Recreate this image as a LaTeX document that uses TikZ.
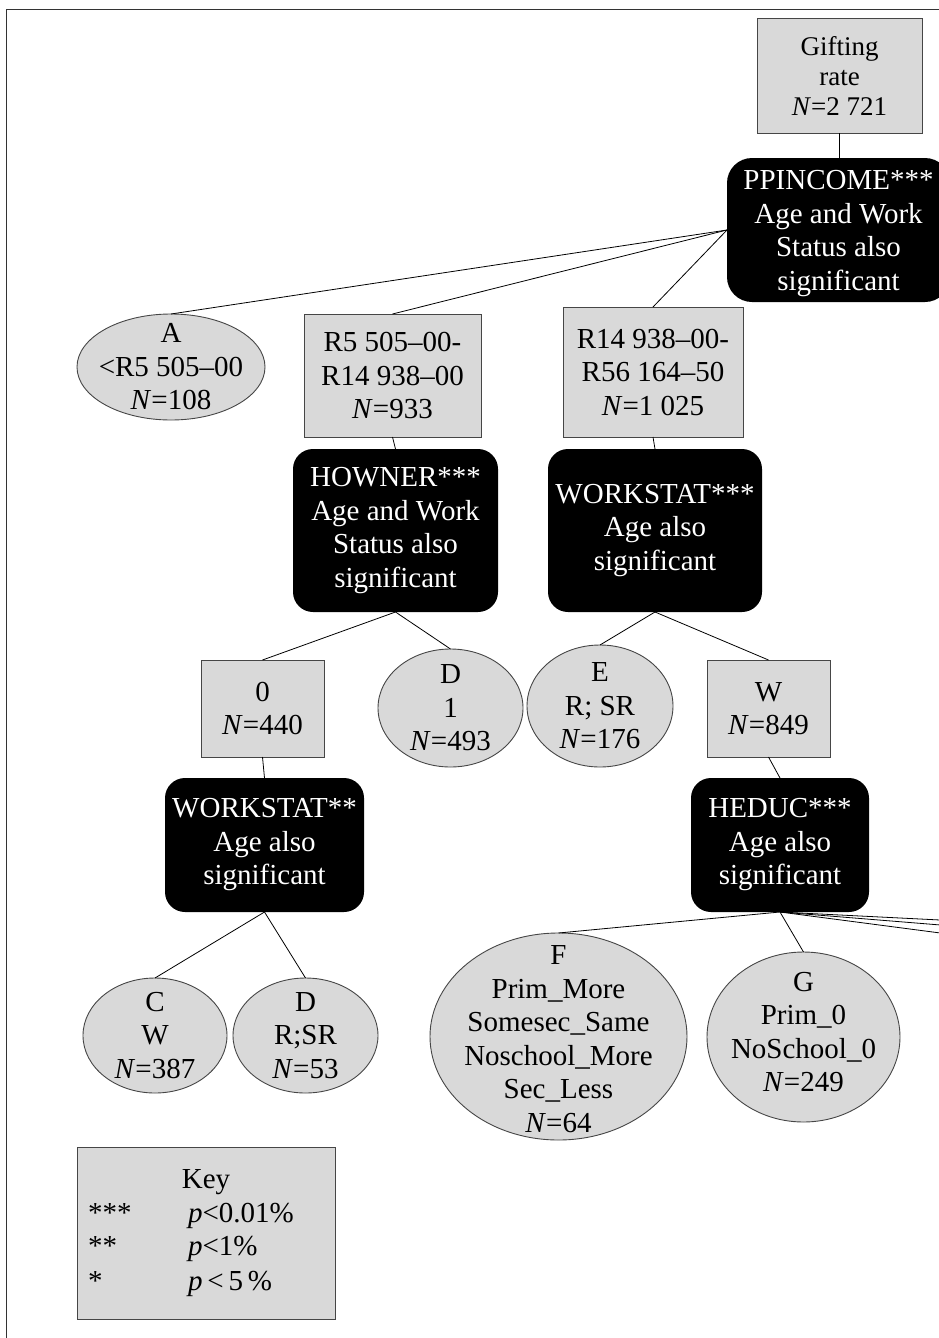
\documentclass[tikz,border=0pt]{standalone}
\usepackage{fontspec}
\setmainfont{Liberation Serif}
\usetikzlibrary{shapes.geometric}
\definecolor{boxgray}{RGB}{217,217,217}
\definecolor{rimgray}{RGB}{70,70,70}
\begin{document}
\begin{tikzpicture}[x=1pt,y=-1pt,
  every node/.style={inner sep=0pt, outer sep=0pt, align=center,
    font=\fontsize{29}{33.5}\selectfont},
  valbox/.style={rectangle, draw=rimgray, fill=boxgray, line width=0.9pt},
  leaf/.style={ellipse, draw=rimgray, fill=boxgray, line width=0.9pt},
  split/.style={rectangle, fill=black, text=white, rounded corners=20pt},
  whitetext/.style={text=white},
  link/.style={draw=black, line width=0.8pt},
  keyrow/.style={anchor=base west},
]
\useasboundingbox (0,0) rectangle (939,1338);
\clip (0,0) rectangle (939,1338);

% page frame
\draw[line width=1.3pt, draw=black!80] (6.5,1338) -- (6.5,9.5) -- (939,9.5);

% root and first split
\node[valbox, minimum width=165pt, minimum height=115pt,
      font=\fontsize{27}{30}\selectfont] (root) at (839.5,75.5)
  {Gifting\\rate\\\textit{N}=2 721};
\node[split, rounded corners=25pt, minimum width=223pt, minimum height=144pt]
  (ppinc) at (838.5,230) {};
\node[whitetext] (ppinctxt) at (838.5,233.5)
  {PPINCOME***\\Age and Work\\Status also\\significant};

% income groups
\node[leaf, minimum width=188pt, minimum height=106pt] (A) at (171,367) {};
\node (Atxt) at (A) {A\\<R5 505–00\\\textit{N}=108};
\node[valbox, minimum width=177pt, minimum height=123pt] (mid) at (392.5,375.5)
  {R5 505–00-\\R14 938–00\\\textit{N}=933};
\node[valbox, minimum width=180pt, minimum height=130pt] (high) at (653,372)
  {R14 938–00-\\R56 164–50\\\textit{N}=1 025};

% second-level splits
\node[split, minimum width=205pt, minimum height=163pt] (howner) at (395.5,530.5)
  {HOWNER***\\Age and Work\\Status also\\significant};
\node[split, minimum width=214pt, minimum height=163pt] (wsthree) at (655,530.5)
  {WORKSTAT***\\Age also\\significant};

% third level
\node[valbox, minimum width=123pt, minimum height=97pt] (zero) at (262.5,708.5)
  {0\\\textit{N}=440};
\node[leaf, minimum width=145pt, minimum height=118pt] (Done) at (450.5,708) {};
\node (Donetxt) at (Done) {D\\1\\\textit{N}=493};
\node[leaf, minimum width=146pt, minimum height=122pt] (E) at (600,706) {};
\node (Etxt) at (E) {E\\R; SR\\\textit{N}=176};
\node[valbox, minimum width=123pt, minimum height=97pt] (W) at (768.5,708.5)
  {W\\\textit{N}=849};

% fourth level
\node[split, minimum width=199pt, minimum height=134pt] (wstwo) at (264.5,845)
  {WORKSTAT**\\Age also\\significant};
\node[split, minimum width=178pt, minimum height=134pt] (heduc) at (780,845)
  {HEDUC***\\Age also\\significant};

% terminal groups
\node[leaf, minimum width=144pt, minimum height=115pt] (C) at (155,1035.5) {};
\node (Ctxt) at (C) {C\\W\\\textit{N}=387};
\node[leaf, minimum width=145pt, minimum height=115pt] (Dtwo) at (305.5,1035.5) {};
\node (Dtwotxt) at (Dtwo) {D\\R;SR\\\textit{N}=53};
\node[leaf, minimum width=257pt, minimum height=207pt] (F) at (558.5,1036.5) {};
\node (Ftxt) at (558.5,1039) {F\\Prim\_More\\Somesec\_Same\\Noschool\_More\\Sec\_Less\\\textit{N}=64};
\node[leaf, minimum width=193pt, minimum height=170pt] (G) at (803.5,1037) {};
\node (Gtxt) at (803.5,1032) {G\\Prim\_0\\NoSchool\_0\\\textit{N}=249};

% branches continuing past the right edge
\coordinate (hone) at (1200,933);
\coordinate (htwo) at (1200,946);
\coordinate (hthree) at (1200,967);

% key
\node[valbox, minimum width=258pt, minimum height=172pt] (key) at (206,1233) {};
\node[anchor=base] (keyhd) at (206,1188) {Key};
\node[keyrow] (kthree) at (88,1222) {***};
\node[keyrow] (kthreep) at (188,1222) {\textit{p}<0.01\%};
\node[keyrow] (ktwo) at (88,1255) {**};
\node[keyrow] (ktwop) at (188,1255) {\textit{p}<1\%};
\node[keyrow] (kone) at (88,1290) {*};
\node[keyrow] (konep) at (188,1290) {\textit{p}\,<\,5\,\%};

% connectors
\draw[link] (root.south) -- (root.south |- ppinc.north);
\draw[link] (ppinc.west) -- (A.north);
\draw[link] (ppinc.west) -- (mid.north);
\draw[link] (ppinc.west) -- (high.north);
\draw[link] (mid.south) -- (howner.north);
\draw[link] (high.south) -- (wsthree.north);
\draw[link] (howner.south) -- (zero.north);
\draw[link] (howner.south) -- (Done.north);
\draw[link] (wsthree.south) -- (E.north);
\draw[link] (wsthree.south) -- (W.north);
\draw[link] (zero.south) -- (wstwo.north);
\draw[link] (W.south) -- (heduc.north);
\draw[link] (wstwo.south) -- (C.north);
\draw[link] (wstwo.south) -- (Dtwo.north);
\draw[link] (heduc.south) -- (F.north);
\draw[link] (heduc.south) -- (G.north);
\draw[link] (heduc.south) -- (hone);
\draw[link] (heduc.south) -- (htwo);
\draw[link] (heduc.south) -- (hthree);
\end{tikzpicture}
\end{document}
